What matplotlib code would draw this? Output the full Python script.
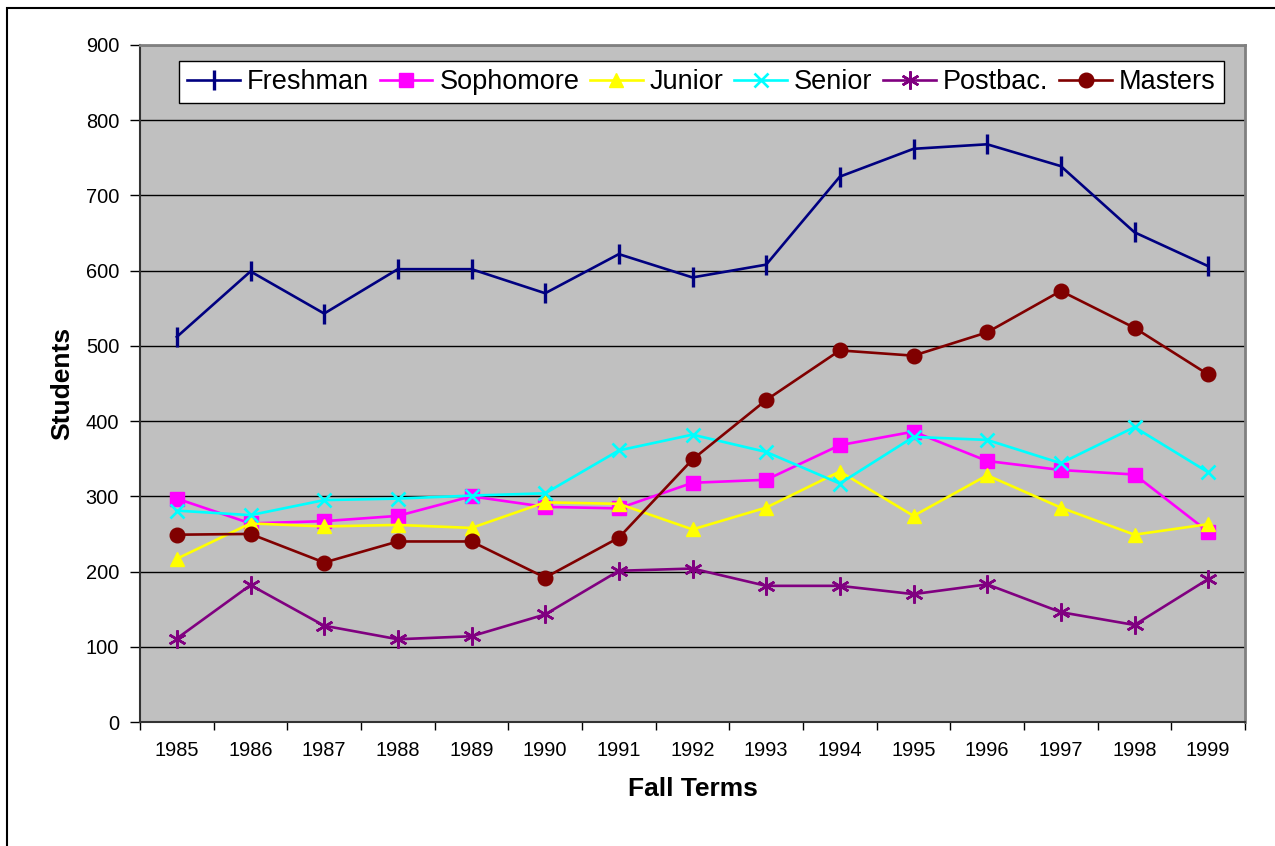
import numpy as np
import matplotlib
matplotlib.use("Agg")
import matplotlib.pyplot as plt
from matplotlib.patches import Rectangle

plt.rcParams['font.family'] = ['Liberation Sans', 'DejaVu Sans']

years = ['1985', '1986', '1987', '1988', '1989', '1990', '1991', '1992',
         '1993', '1994', '1995', '1996', '1997', '1998', '1999']
freshman = [512, 599, 543, 602, 602, 570, 622, 591, 608, 725, 762, 768, 739, 651, 606]
sophomore = [297, 264, 267, 274, 300, 286, 284, 318, 322, 368, 386, 347, 335, 329, 253]
junior = [217, 264, 260, 262, 258, 292, 290, 256, 285, 333, 274, 328, 285, 249, 263]
senior = [281, 275, 295, 297, 301, 304, 361, 382, 359, 317, 379, 375, 344, 392, 332]
postbac = [111, 182, 128, 110, 114, 143, 201, 204, 181, 181, 170, 183, 146, 129, 190]
masters = [249, 250, 212, 240, 240, 192, 245, 349, 428, 494, 487, 518, 573, 524, 462]

fig = plt.figure(figsize=(12.75, 8.46), dpi=100)
ax = fig.add_axes([140/1275, 1-722/846, 1105/1275, 677/846])
ax.set_facecolor('#C0C0C0')

x = np.arange(len(years))
lw = 1.9
ax.plot(x, freshman, color='#000080', lw=lw, marker='|', ms=14, mew=2.4, label='Freshman')
ax.plot(x, sophomore, color='#FF00FF', lw=lw, marker='s', ms=9.5, label='Sophomore')
ax.plot(x, junior, color='#FFFF00', lw=lw, marker='^', ms=10.5, label='Junior')
ax.plot(x, senior, color='#00FFFF', lw=lw, marker='x', ms=10.5, mew=1.9, label='Senior')
ax.plot(x, postbac, color='#800080', lw=lw, marker=(6, 2, 0), ms=13, mew=1.8, label='Postbac.')
ax.plot(x, masters, color='#800000', lw=lw, marker='o', ms=10.5, label='Masters')

ax.set_xlim(-0.5, 14.5)
ax.set_ylim(0, 900)
ax.set_yticks(range(0, 901, 100))
ax.yaxis.grid(True, color='black', lw=1)
ax.set_axisbelow(True)

ax.set_xticks(x)
ax.set_xticklabels(years)
ax.set_xticks(np.arange(-0.5, 15, 1), minor=True)
ax.tick_params(axis='x', which='major', length=0, pad=14, labelsize=14.4)
ax.tick_params(axis='x', which='minor', length=6, width=1, direction='out')
ax.tick_params(axis='y', length=7, width=1, labelsize=14.4, pad=8)

for s in ['left', 'bottom']:
    ax.spines[s].set_color('#333333')
    ax.spines[s].set_linewidth(1.5)
for s in ['top', 'right']:
    ax.spines[s].set_color('#808080')
    ax.spines[s].set_linewidth(2)

ax.set_xlabel('Fall Terms', fontsize=19, fontweight='bold', labelpad=12)
ax.set_ylabel('Students', fontsize=19, fontweight='bold', labelpad=8)

leg = ax.legend(loc='upper center', bbox_to_anchor=(0.508, 0.976), ncol=6,
                fontsize=19.5, frameon=True, fancybox=False, framealpha=1,
                edgecolor='black', handlelength=1.95, handletextpad=0.25,
                columnspacing=0.4, borderpad=0.3, borderaxespad=0)
leg.get_frame().set_linewidth(1)

fig.patches.append(Rectangle((7/1275, -0.1), 1.2, 1 - 8/846 + 0.1,
                             transform=fig.transFigure, fill=False,
                             edgecolor='black', lw=1.5))

plt.savefig('out.png', dpi=100)
